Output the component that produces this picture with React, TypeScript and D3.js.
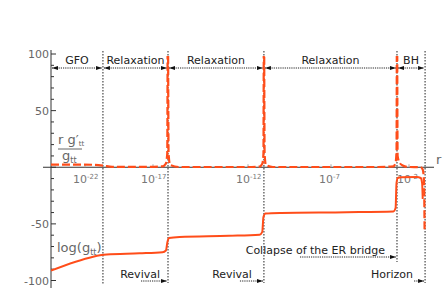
import { useRef, useEffect } from 'react';
import * as d3 from 'd3';

// tick decades of r (log10) and the transition points between regimes
const tickDecades = [-22, -17, -12, -7, -2];
const regionEdges = [-24.5, -20.68, -16.21, -11.04, -2.77, -0.97];
const regionLabels = ['GFO', 'Relaxation', 'Relaxation', 'Relaxation', 'BH'];

// bottom annotations: text, edge index it points at
const noteTexts = ['Revival', 'Revival', 'Collapse of the ER bridge', 'Horizon'];
const noteEdges = [2, 3, 4, 5];

// log10(r), value
const logGtt: [number, number][] = [
  [-24.5, -91.3], [-21.4, -79], [-20.9, -77.8], [-20.4, -77], [-18, -76], [-16.5, -75],
  [-16.32, -73.5], [-16.24, -66], [-16.16, -62.5], [-15.6, -61.5], [-13, -60.5], [-11.3, -59.5],
  [-11.14, -57], [-11.07, -44], [-10.95, -40.8], [-10, -40.3], [-6, -39.7], [-3.0, -39],
  [-2.86, -36], [-2.8, -14], [-2.72, -9.5], [-2.5, -8.9], [-1.5, -8.7], [-1.25, -9.5],
  [-1.16, -14], [-1.12, -28],
];

const rDgtt: [number, number][] = [
  [-24.5, 2.4], [-21.5, 2.2], [-20.68, 1.5], [-20, 0.4], [-17.5, 0.3], [-16.5, 0.8],
  [-16.33, 3], [-16.25, 12], [-16.22, 150], [-16.18, 12], [-16.1, 2], [-15.6, 0.2],
  [-12, 0.2], [-11.3, 0.6], [-11.14, 3], [-11.07, 12], [-11.04, 150], [-11.0, 12],
  [-10.92, 2], [-10.5, 0.2], [-4, 0.2], [-3.0, 0.8], [-2.86, 4], [-2.8, 14],
  [-2.77, 150], [-2.73, 10], [-2.6, 4], [-2.4, 1.5], [-2.1, 0.3], [-1.25, 0],
  [-1.12, -2], [-1.04, -12], [-1.0, -57],
];

const yTicksMajor = [100, 50, -50, -100];

function App() {
  const ref = useRef<SVGSVGElement>(null);
  const width = 447;
  const height = 292;
  const red = '#ff4d1a';

  useEffect(() => {
    const svg = d3.select(ref.current);
    svg.selectAll('*').remove();

    const x = d3.scaleLinear().domain(tickDecades).range([85, 153, 248, 331, 409]);
    const y = d3.scaleLinear().domain([-100, 100]).range([280.5, 54]);
    const x0 = x(regionEdges[0]);
    const font = 'DejaVu Sans, sans-serif';

    svg.append('defs').append('clipPath').attr('id', 'plot')
      .append('rect').attr('x', x0).attr('y', 56).attr('width', 385).attr('height', 232);

    const marker = svg.select('defs').append('marker')
      .attr('id', 'head').attr('viewBox', '0 0 10 10').attr('refX', 10).attr('refY', 5)
      .attr('markerWidth', 6).attr('markerHeight', 6).attr('orient', 'auto-start-reverse')
      .attr('markerUnits', 'userSpaceOnUse');
    marker.append('path').attr('d', 'M0,1.5L10,5L0,8.5Z').attr('fill', '#111');

    // y axis
    svg.append('line').attr('x1', x0).attr('x2', x0).attr('y1', 50).attr('y2', 288)
      .attr('stroke', '#333');
    svg.append('g').selectAll('line').data(d3.range(-100, 101, 10)).join('line')
      .attr('x1', x0).attr('x2', d => x0 + (d % 50 === 0 ? 5 : 3))
      .attr('y1', d => y(d)).attr('y2', d => y(d)).attr('stroke', '#333');
    svg.append('g').selectAll('text').data(yTicksMajor).join('text')
      .attr('x', x0 - 2).attr('y', d => y(d) + 4).attr('text-anchor', 'end')
      .attr('font-family', font).attr('font-size', 11).attr('fill', '#666')
      .text(d => d);

    // x axis
    svg.append('line').attr('x1', 43).attr('x2', 434).attr('y1', y(0)).attr('y2', y(0))
      .attr('stroke', '#333');
    svg.append('g').selectAll('line').data(tickDecades).join('line')
      .attr('x1', d => x(d)).attr('x2', d => x(d)).attr('y1', y(0)).attr('y2', y(0) - 3)
      .attr('stroke', '#aaa');
    const xl = svg.append('g').selectAll('text').data(tickDecades).join('text')
      .attr('x', d => x(d) - 12).attr('y', y(0) + 16)
      .attr('font-family', font).attr('font-size', 11).attr('fill', '#777');
    xl.append('tspan').text('10');
    xl.append('tspan').attr('dy', -4).attr('font-size', 7).text(d => '-' + Math.abs(d));
    svg.append('text').attr('x', 436).attr('y', 164).attr('font-family', font)
      .attr('font-size', 13).attr('fill', '#666').text('r');

    // vertical dotted boundaries
    const bottoms = [285, 283, 283, 262, 283];
    svg.append('g').selectAll('line').data(regionEdges.slice(1)).join('line')
      .attr('x1', d => x(d)).attr('x2', d => x(d)).attr('y1', 51).attr('y2', (d, i) => bottoms[i])
      .attr('stroke', '#222').attr('stroke-dasharray', '1.5 1.5');

    // top regime arrows
    const top = svg.append('g');
    regionLabels.forEach((lab, i) => {
      const a = x(regionEdges[i]) + 1;
      const b = x(regionEdges[i + 1]) - 1;
      top.append('line').attr('x1', a).attr('x2', b).attr('y1', 68).attr('y2', 68)
        .attr('stroke', '#222').attr('stroke-dasharray', '1.2 1')
        .attr('marker-start', 'url(#head)').attr('marker-end', 'url(#head)');
      top.append('text').attr('x', (a + b) / 2).attr('y', 64).attr('text-anchor', 'middle')
        .attr('font-family', font).attr('font-size', 11).attr('fill', '#222').text(lab);
    });

    // bottom annotations
    const noteY = [281, 281, 257, 281];
    const noteLen = [27, 24, 97, 11];
    const noteGap = [8, 12, 12, 12];
    const bot = svg.append('g');
    noteTexts.forEach((t, i) => {
      const b = x(regionEdges[noteEdges[i]]);
      bot.append('line').attr('x1', b - noteLen[i]).attr('x2', b - 1)
        .attr('y1', noteY[i]).attr('y2', noteY[i])
        .attr('stroke', '#222').attr('stroke-dasharray', '1.2 1').attr('marker-end', 'url(#head)');
      bot.append('text').attr('x', b - noteGap[i]).attr('y', noteY[i] - 3).attr('text-anchor', 'end')
        .attr('font-family', font).attr('font-size', 11).attr('fill', '#222').text(t);
    });

    // curves
    const line = d3.line<[number, number]>().x(d => x(d[0])).y(d => y(d[1])).curve(d3.curveMonotoneX);
    const plot = svg.append('g').attr('clip-path', 'url(#plot)');
    plot.append('path').attr('d', line(logGtt)).attr('fill', 'none')
      .attr('stroke', red).attr('stroke-width', 2);
    plot.append('path').attr('d', line(rDgtt)).attr('fill', 'none')
      .attr('stroke', red).attr('stroke-width', 2.2).attr('stroke-dasharray', '8 3');

    // curve labels
    const lab = svg.append('g').attr('font-family', font).attr('fill', '#666');
    const num = lab.append('text').attr('x', 58).attr('y', 144).attr('font-size', 13);
    num.append('tspan').text('r g′');
    num.append('tspan').attr('dy', 2).attr('font-size', 7).text('tt');
    lab.append('line').attr('x1', 58).attr('x2', 82).attr('y1', 149).attr('y2', 149)
      .attr('stroke', '#666');
    const den = lab.append('text').attr('x', 62).attr('y', 160).attr('font-size', 13);
    den.append('tspan').text('g');
    den.append('tspan').attr('dy', 3).attr('font-size', 8).text('tt');
    const lg = lab.append('text').attr('x', 57).attr('y', 252).attr('font-size', 13);
    lg.append('tspan').text('log(g');
    lg.append('tspan').attr('dy', 3).attr('font-size', 8).text('tt');
    lg.append('tspan').attr('dy', -3).text(')');
  }, []);

  return (
    <svg ref={ref} width={width} height={height}
      style={{ position: 'absolute', left: 0, top: 0, background: '#fff' }}></svg>
  );
}

export default App;
